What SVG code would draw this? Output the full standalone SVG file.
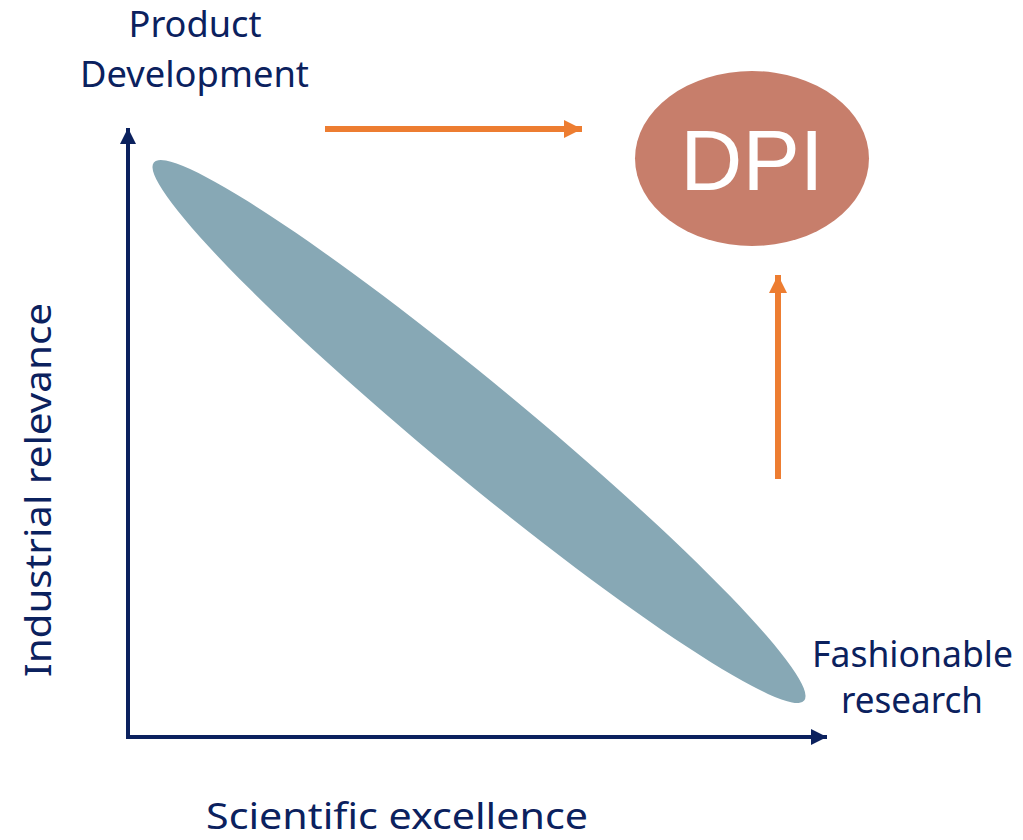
<svg xmlns="http://www.w3.org/2000/svg" width="1023" height="840" viewBox="0 0 1023 840">
  <defs>
    <marker id="navyHead" viewBox="0 0 16 16" refX="16" refY="8" markerWidth="16" markerHeight="16" markerUnits="userSpaceOnUse" orient="auto">
      <path d="M0,0 L16,8 L0,16 Z" fill="#0B215E"/>
    </marker>
    <marker id="orangeHead" viewBox="0 0 18 18" refX="18" refY="9" markerWidth="18" markerHeight="18" markerUnits="userSpaceOnUse" orient="auto">
      <path d="M0,0 L18,9 L0,18 Z" fill="#ED7D31"/>
    </marker>
    <style>
      .label { font-family: "Noto Sans", "Open Sans", sans-serif; font-size: 36.5px; fill: #0B215E; }
      .axis { stroke: #0B215E; stroke-width: 4; fill: none; }
      .flow { stroke: #ED7D31; stroke-width: 6; fill: none; }
    </style>
  </defs>

  <!-- axes and arrows -->
  <g id="connectors">
    <line class="axis" x1="128" y1="738" x2="128" y2="128" marker-end="url(#navyHead)"/>
    <line class="axis" x1="126" y1="737" x2="827" y2="737" marker-end="url(#navyHead)"/>
    <line class="flow" x1="325" y1="129" x2="582" y2="129" marker-end="url(#orangeHead)"/>
    <line class="flow" x1="778" y1="479" x2="778" y2="275" marker-end="url(#orangeHead)"/>
  </g>

  <!-- trade-off band -->
  <g id="band">
    <ellipse cx="479" cy="431.5" rx="422" ry="47" transform="rotate(39.6 479 431.5)" fill="#87A8B5"/>
  </g>

  <!-- DPI node -->
  <g id="dpi">
    <ellipse cx="752" cy="158.5" rx="117" ry="87.5" fill="#C77E6B"/>
    <text x="752" y="190" text-anchor="middle" font-family="Liberation Sans, Arial, sans-serif" font-size="86" fill="#FFFFFF">DPI</text>
  </g>

  <!-- labels -->
  <g id="product-development">
    <text class="label" x="195" y="37" text-anchor="middle" textLength="133" lengthAdjust="spacingAndGlyphs">Product</text>
    <text class="label" x="194.5" y="87" text-anchor="middle" textLength="229" lengthAdjust="spacingAndGlyphs">Development</text>
  </g>
  <g id="fashionable-research">
    <text class="label" x="912.5" y="667" text-anchor="middle" textLength="201" lengthAdjust="spacingAndGlyphs">Fashionable</text>
    <text class="label" x="912" y="713" text-anchor="middle" textLength="142" lengthAdjust="spacingAndGlyphs">research</text>
  </g>
  <g id="scientific-excellence">
    <text class="label" x="397" y="829" text-anchor="middle" textLength="382" lengthAdjust="spacingAndGlyphs">Scientific excellence</text>
  </g>
  <g id="industrial-relevance">
    <text class="label" x="0" y="0" text-anchor="middle" textLength="374" lengthAdjust="spacingAndGlyphs" transform="translate(51 490) rotate(-90)">Industrial relevance</text>
  </g>
</svg>
